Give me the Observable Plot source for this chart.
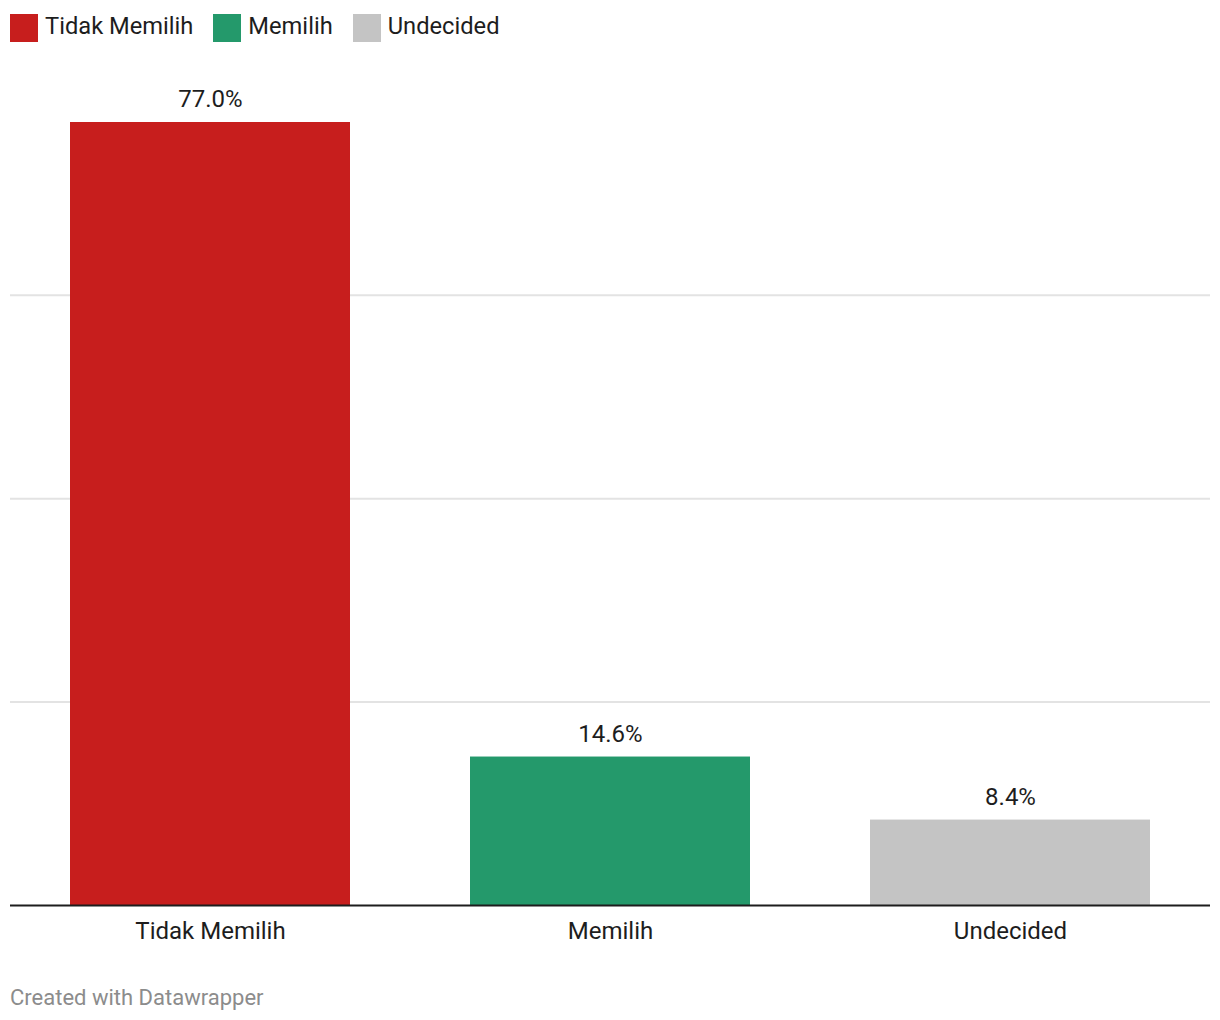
<!DOCTYPE html>
<html>
<head>
<meta charset="utf-8">
<script src="https://cdn.jsdelivr.net/npm/d3@7"></script>
<script src="https://cdn.jsdelivr.net/npm/@observablehq/plot@0.6"></script>
<style>
  html, body { margin: 0; padding: 0; background: #fff; }
  body { width: 1220px; font-family: Roboto, "Noto Sans", sans-serif; color: #1d1d1d; }
  #legend { height: 56px; box-sizing: border-box; padding: 14px 0 0 10px; display: flex; align-items: flex-start; font-size: 23.7px; line-height: 28px; }
  #legend .item { display: flex; align-items: center; margin-right: 20px; }
  #legend .sw { width: 28px; height: 28px; margin-right: 7px; flex: none; }
  #legend .lbl { position: relative; top: -2px; }
  #caption { padding-left: 10px; font-size: 22px; color: #8c8c8c; margin-top: 30px; }
</style>
</head>
<body>
<div id="legend"></div>
<div id="chart"></div>
<div id="caption">Created with Datawrapper</div>
<script>
const categories = ["Tidak Memilih", "Memilih", "Undecided"];
const values = [77.0, 14.6, 8.4];
const colors = ["#c71e1d", "#24996b", "#c4c4c4"];
const gridTicks = [20, 40, 60];

const data = categories.map((c, i) => ({category: c, value: values[i]}));

const legend = document.getElementById("legend");
categories.forEach((c, i) => {
  const item = document.createElement("div");
  item.className = "item";
  item.innerHTML = `<span class="sw" style="background:${colors[i]}"></span><span class="lbl">${c}</span>`;
  legend.appendChild(item);
});

const chart = Plot.plot({
  width: 1220,
  height: 899,
  marginLeft: 10,
  marginRight: 10,
  marginTop: 66,
  marginBottom: 50,
  style: {fontFamily: "Roboto, 'Noto Sans', sans-serif", fontSize: "24px", color: "#1d1d1d", background: "#fff"},
  x: {domain: categories, paddingInner: 0.3, paddingOuter: 0.15, label: null},
  y: {domain: [0, 77], axis: null},
  color: {domain: categories, range: colors},
  marks: [
    Plot.gridY(gridTicks, {stroke: "#e3e3e3", strokeOpacity: 1, strokeWidth: 2}),
    Plot.barY(data, {x: "category", y: "value", fill: "category"}),
    Plot.ruleY([0], {stroke: "#1d1d1d", strokeWidth: 2}),
    Plot.text(data, {x: "category", y: "value", text: d => d.value.toFixed(1) + "%", dy: -23, fontSize: 24, fill: "#1d1d1d"}),
    Plot.axisX({tickSize: 0, tickPadding: 16, fontSize: 24, label: null, fill: "#1d1d1d"})
  ]
});
document.getElementById("chart").appendChild(chart);
</script>
</body>
</html>
